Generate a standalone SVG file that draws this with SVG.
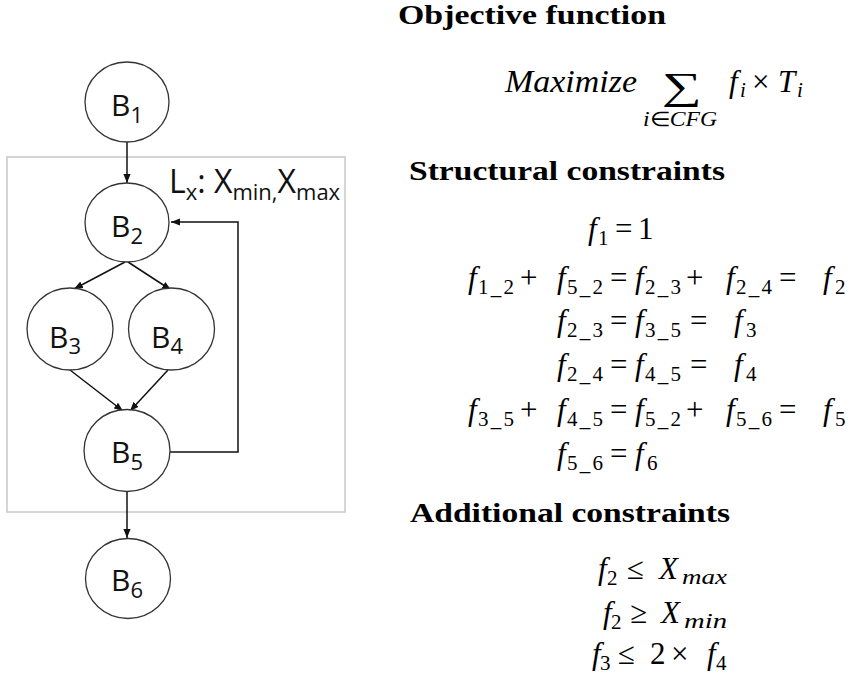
<svg xmlns="http://www.w3.org/2000/svg" width="853" height="679" viewBox="0 0 853 679">
<style>
.node ellipse{fill:#fff;stroke:#333;stroke-width:1.3}
.lbl{font-family:"Open Sans","Liberation Sans",sans-serif;font-size:30px;fill:#111}
.lbl .s{font-size:22px}
.lx{font-size:32px}
.edge{fill:none;stroke:#111;stroke-width:1.5;marker-end:url(#ah)}
.h{font-family:"Liberation Serif",serif;font-weight:bold;font-size:28px;fill:#000}
.m{font-family:"Liberation Serif",serif;font-size:31px;fill:#000}
.it{font-style:italic}
.s{font-size:21px}
.sum{font-size:38px}
.lim{font-size:20px}
</style>
<defs>
<marker id="ah" viewBox="0 0 10 10" refX="10" refY="5" markerWidth="9" markerHeight="9" markerUnits="userSpaceOnUse" orient="auto"><path d="M0,1 L10,5 L0,9 z" fill="#111"/></marker>
</defs>
<rect width="853" height="679" fill="#fff"/>
<rect id="loop-box" x="7" y="157" width="338" height="355" fill="none" stroke="#c8c8c8" stroke-width="1.5"/>
<text class="lbl lx" x="169" y="193">L<tspan class="s" dy="7">x</tspan><tspan dy="-7">: X</tspan><tspan class="s" dy="7">min,</tspan><tspan dy="-7">X</tspan><tspan class="s" dy="7">max</tspan></text>
<g id="edges">
<path class="edge" d="M127,142 L127,183"/>
<path class="edge" d="M125,262 L74,289"/>
<path class="edge" d="M128,262 L171,290"/>
<path class="edge" d="M70,370 L123,411"/>
<path class="edge" d="M168,370 L130,411"/>
<path class="edge" d="M170,452 L238,452 L238,222 L171,222"/>
<path class="edge" d="M127,492 L127,538"/>
</g>
<g id="B1" class="node"><ellipse cx="127" cy="102" rx="42" ry="40"/><text class="lbl" x="111" y="116">B<tspan class="s" dy="7">1</tspan></text></g>
<g id="B2" class="node"><ellipse cx="127" cy="222.5" rx="42" ry="39.5"/><text class="lbl" x="111" y="237">B<tspan class="s" dy="7">2</tspan></text></g>
<g id="B3" class="node"><ellipse cx="70" cy="329" rx="43" ry="41"/><text class="lbl" x="49" y="348">B<tspan class="s" dy="6">3</tspan></text></g>
<g id="B4" class="node"><ellipse cx="171.5" cy="329" rx="43" ry="41"/><text class="lbl" x="151" y="348">B<tspan class="s" dy="6">4</tspan></text></g>
<g id="B5" class="node"><ellipse cx="127" cy="450.5" rx="43" ry="41"/><text class="lbl" x="111" y="463">B<tspan class="s" dy="7">5</tspan></text></g>
<g id="B6" class="node"><ellipse cx="128" cy="578.5" rx="42.5" ry="40"/><text class="lbl" x="111" y="591">B<tspan class="s" dy="7">6</tspan></text></g>

<text class="h" x="398" y="24" textLength="268" lengthAdjust="spacingAndGlyphs">Objective function</text>
<g id="objective">
<text class="m it" x="505" y="92" textLength="132" lengthAdjust="spacingAndGlyphs">Maximize</text>
<text class="m sum" x="662" y="99" textLength="40" lengthAdjust="spacingAndGlyphs">∑</text>
<text class="m lim" x="643" y="126" textLength="74" lengthAdjust="spacingAndGlyphs"><tspan class="it">i</tspan>∈<tspan class="it">CFG</tspan></text>
<text class="m it" x="729" y="92">f</text><text class="m it s" x="740" y="97">i</text>
<text class="m" x="752" y="92">×</text>
<text class="m it" x="778" y="92">T</text><text class="m it s" x="797" y="97">i</text>
</g>

<text class="h" x="409" y="180" textLength="316" lengthAdjust="spacingAndGlyphs">Structural constraints</text>
<g id="structural">
<text class="m it" x="588" y="239">f</text><text class="m s" x="598" y="245">1</text><text class="m" x="615" y="239">=</text><text class="m" x="638" y="239">1</text>

<text class="m it" x="468" y="288">f</text><text class="m s" x="478" y="294" textLength="36" lengthAdjust="spacing">1_2</text><text class="m" x="520" y="288">+</text>
<text class="m it" x="557" y="288">f</text><text class="m s" x="567" y="294" textLength="36" lengthAdjust="spacing">5_2</text><text class="m" x="610" y="288">=</text>
<text class="m it" x="635" y="288">f</text><text class="m s" x="645" y="294" textLength="36" lengthAdjust="spacing">2_3</text><text class="m" x="686" y="288">+</text>
<text class="m it" x="726" y="288">f</text><text class="m s" x="736" y="294" textLength="36" lengthAdjust="spacing">2_4</text><text class="m" x="779" y="288">=</text>
<text class="m it" x="823" y="288">f</text><text class="m s" x="835" y="294">2</text>

<text class="m it" x="557" y="331">f</text><text class="m s" x="567" y="337" textLength="36" lengthAdjust="spacing">2_3</text><text class="m" x="610" y="331">=</text>
<text class="m it" x="635" y="331">f</text><text class="m s" x="645" y="337" textLength="36" lengthAdjust="spacing">3_5</text><text class="m" x="690" y="331">=</text>
<text class="m it" x="734" y="331">f</text><text class="m s" x="746" y="337">3</text>

<text class="m it" x="557" y="375">f</text><text class="m s" x="567" y="381" textLength="36" lengthAdjust="spacing">2_4</text><text class="m" x="610" y="375">=</text>
<text class="m it" x="635" y="375">f</text><text class="m s" x="645" y="381" textLength="36" lengthAdjust="spacing">4_5</text><text class="m" x="690" y="375">=</text>
<text class="m it" x="734" y="375">f</text><text class="m s" x="746" y="381">4</text>

<text class="m it" x="468" y="420">f</text><text class="m s" x="478" y="426" textLength="36" lengthAdjust="spacing">3_5</text><text class="m" x="520" y="420">+</text>
<text class="m it" x="557" y="420">f</text><text class="m s" x="567" y="426" textLength="36" lengthAdjust="spacing">4_5</text><text class="m" x="610" y="420">=</text>
<text class="m it" x="635" y="420">f</text><text class="m s" x="645" y="426" textLength="36" lengthAdjust="spacing">5_2</text><text class="m" x="686" y="420">+</text>
<text class="m it" x="726" y="420">f</text><text class="m s" x="736" y="426" textLength="36" lengthAdjust="spacing">5_6</text><text class="m" x="779" y="420">=</text>
<text class="m it" x="823" y="420">f</text><text class="m s" x="835" y="426">5</text>

<text class="m it" x="557" y="464">f</text><text class="m s" x="567" y="470" textLength="36" lengthAdjust="spacing">5_6</text><text class="m" x="610" y="464">=</text>
<text class="m it" x="635" y="464">f</text><text class="m s" x="647" y="470">6</text>
</g>

<text class="h" x="410" y="522" textLength="320" lengthAdjust="spacingAndGlyphs">Additional constraints</text>
<g id="additional">
<text class="m it" x="598" y="579">f</text><text class="m s" x="607" y="585">2</text><text class="m" x="627" y="579">≤</text>
<text class="m it" x="659" y="579">X</text><text class="m it s" x="682" y="584" textLength="45" lengthAdjust="spacingAndGlyphs">max</text>

<text class="m it" x="603" y="623">f</text><text class="m s" x="611" y="629">2</text><text class="m" x="630" y="623">≥</text>
<text class="m it" x="661" y="623">X</text><text class="m it s" x="684" y="628" textLength="43" lengthAdjust="spacingAndGlyphs">min</text>

<text class="m it" x="592" y="664">f</text><text class="m s" x="600" y="670">3</text><text class="m" x="618" y="664">≤</text>
<text class="m" x="650" y="664">2</text><text class="m" x="671" y="664">×</text>
<text class="m it" x="707" y="664">f</text><text class="m s" x="716" y="670">4</text>
</g>
</svg>
